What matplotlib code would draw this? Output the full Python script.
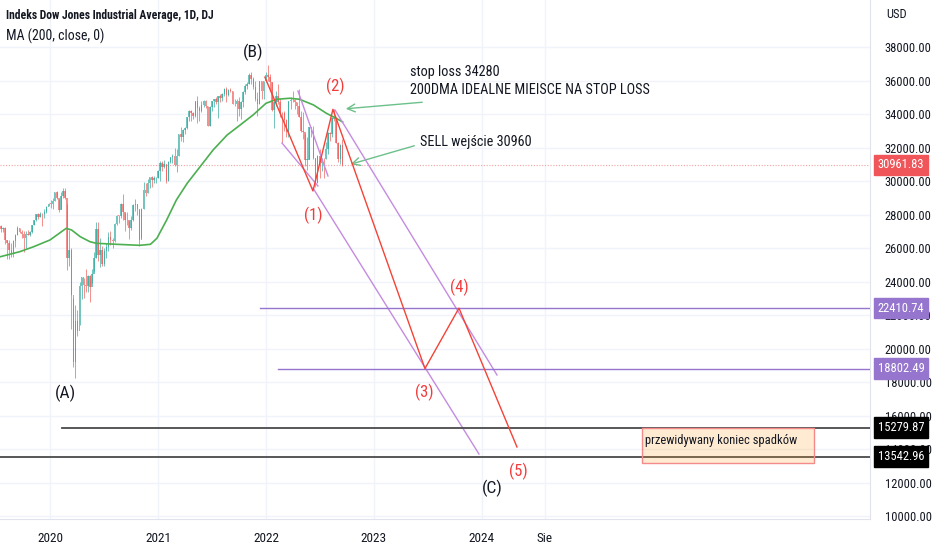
import pandas as pd
import matplotlib
matplotlib.use("Agg")
from matplotlib import pyplot as plt
from matplotlib import font_manager as fm
from matplotlib.patches import Rectangle

# weekly candles, Jul 2019 - Sep 2022
closes = [27154, 27192, 26485, 26287, 25886, 25628, 26403, 26797, 27220, 26935, 26820, 26573,
          26816, 26770, 26958, 27347, 27681, 28005, 27876, 28051, 28015, 28135, 28455, 28645,
          28634, 28823, 29348, 28989, 28256, 29102, 29398, 28992, 25409, 25864, 23185, 19174,
          21636, 21052, 23719, 24242, 23775, 23724, 24331, 23685, 24465, 25383, 27111, 25606,
          25871, 25016, 25827, 26075, 26672, 26470, 26428, 27433, 27931, 27930, 28654, 28133,
          27666, 27657, 27174, 27683, 28587, 28606, 28336, 26502, 28323, 29480, 29263, 29910,
          30218, 30046, 30179, 30200,
          30606, 31098, 30814, 30997, 29983, 31148, 31458, 31494, 30932, 31496, 32779, 32628,
          33073, 33153, 33801, 34200, 34043, 33875, 34778, 34382, 34208, 34529, 34756, 34480,
          33290, 34433, 34786, 34870, 34687, 35061, 34935, 35208, 35515, 35120, 35455, 35369,
          34607, 34584, 34798, 34326, 34746, 35295, 35677, 35820, 36328, 36100, 35602, 34899,
          34580, 35971, 35365, 35951, 36338,
          36232, 35912, 34265, 34725, 35090, 34738, 34079, 34059, 33615, 32944, 34755, 34862,
          34818, 34721, 34451, 33811, 32977, 32899, 31262, 31262, 33213, 32900, 31393, 29888,
          31501, 31097, 31338, 31288, 31899, 32845, 32803, 33761, 33706, 32283, 31318, 32151,
          30961.83]
highs = [27400, 27250, 27250, 26500, 26450, 26300, 26480, 26850, 27300, 27200, 27080, 27000,
         27000, 27100, 27000, 27350, 27700, 28050, 28090, 28175, 28070, 28300, 28500, 28700,
         28870, 29000, 29370, 29410, 28950, 29370, 29570, 29570, 28600, 27100, 26000, 23000,
         22600, 22300, 24000, 24270, 24200, 24760, 24400, 24400, 24770, 25760, 27580, 27580,
         26600, 26120, 26000, 26300, 26970, 27000, 26620, 27470, 28000, 28000, 28660, 29200,
         28100, 28130, 27600, 27900, 28650, 28900, 28600, 28300, 28400, 29930, 29900, 30120,
         30230, 30320, 30300, 30230,
         30640, 31190, 31200, 31270, 31000, 31200, 31460, 31640, 32000, 31900, 32800, 33230,
         33100, 33200, 33830, 34260, 34250, 34100, 34800, 35090, 34500, 34780, 34850, 34850,
         34500, 34500, 34800, 34900, 35000, 35100, 35200, 35250, 35550, 35630, 35500, 35550,
         35400, 34900, 34900, 35000, 34800, 35350, 35800, 35900, 36470, 36500, 36200, 36000,
         35300, 36000, 36000, 36000, 36500,
         36950, 36400, 35900, 34800, 35400, 35800, 34900, 34100, 34200, 33700, 34800, 35000,
         35370, 34900, 34700, 35500, 34200, 34100, 32800, 32600, 33250, 33200, 33300, 31400,
         31550, 31900, 31400, 31400, 32300, 32900, 32900, 33800, 34280, 33750, 32300, 32200,
         32500]
lows = [26950, 26950, 26250, 25340, 25340, 25450, 25470, 26050, 26800, 26900, 26600, 25740,
        26000, 26750, 26700, 26900, 27350, 27600, 27720, 27880, 27330, 27800, 28100, 28500,
        28400, 28300, 28800, 28900, 28170, 28300, 29000, 28900, 24680, 24900, 21150, 18900,
        18210, 20740, 21400, 22950, 23000, 23350, 23360, 22800, 23900, 24600, 25380, 25200,
        24850, 24900, 24900, 25390, 25800, 26200, 26000, 26350, 27400, 27500, 27800, 27660,
        27000, 27400, 26540, 27100, 27600, 28200, 28000, 26140, 26600, 28300, 29100, 29300,
        29600, 29670, 29900, 29900,
        30180, 30000, 30600, 30800, 29860, 30000, 31100, 31100, 30900, 30550, 31500, 32400,
        32300, 32800, 33100, 33600, 33600, 33700, 33800, 33450, 33600, 34100, 34400, 34380,
        33270, 33280, 34200, 34400, 34600, 33740, 34700, 34800, 35100, 34700, 35100, 35300,
        34600, 34500, 33600, 33900, 33700, 34400, 35200, 35500, 35800, 35800, 35500, 34800,
        33900, 34600, 34900, 34900, 35900,
        36000, 35400, 34200, 33150, 34500, 34600, 33800, 32270, 33000, 32630, 32600, 34300,
        34700, 34300, 34000, 33800, 32900, 32500, 30900, 30640, 31300, 32600, 31300, 29650,
        29900, 30150, 30600, 30150, 31300, 31600, 32400, 32600, 33600, 32250, 31150, 31000,
        30900]
first_open = 27330

# 200-day MA, read at points along the green line
ma_x = [2019.54, 2019.72, 2019.85, 2020.0, 2020.15, 2020.2, 2020.28, 2020.37, 2020.43, 2020.62,
        2020.83, 2020.93, 2020.99, 2021.08, 2021.17, 2021.27, 2021.39, 2021.51, 2021.64, 2021.76,
        2021.88, 2022.0, 2022.1, 2022.22, 2022.31, 2022.44, 2022.56, 2022.65, 2022.71]
ma_y = [25480, 25780, 26080, 26480, 27175, 27075, 26675, 26375, 26280, 26220,
        26160, 26220, 26580, 27670, 28865, 29860, 30855, 31850, 32745, 33340,
        33940, 34640, 34880, 34940, 34880, 34540, 34040, 33745, 33520]

# elliott wave drawing (red)
wave_x = [2021.99, 2022.435, 2022.62, 2023.472, 2023.787, 2024.324]
wave_y = [36200, 29403, 34280, 18802, 22410, 14119]

# trend lines (purple): x0, y0, x1, y1
trend_lines = [
    (2022.148, 32268, 2022.481, 29701),
    (2022.296, 35373, 2022.574, 30299),
    (2022.435, 29582, 2023.972, 13701),
    (2022.639, 34239, 2024.139, 18418),
]

# horizontal levels: value, start, colour
levels = [(22410.74, 2021.944, "#9575cd"), (18802.49, 2022.111, "#9575cd"),
          (15279.87, 2020.111, "#4a4a4a"), (13542.96, 2019.3, "#4a4a4a")]
last_price = 30961.83

wave_labels = [("(1)", 2022.435, 27970), ("(2)", 2022.639, 35672), ("(3)", 2023.463, 17403),
               ("(4)", 2023.787, 23672), ("(5)", 2024.333, 12687)]
abc_labels = [("(A)", 2020.148, 17343), ("(B)", 2021.880, 37701), ("(C)", 2024.093, 11672)]

year_ticks = [2020, 2021, 2022, 2023, 2024, 2024.583]
year_labels = ["2020", "2021", "2022", "2023", "2024", "Sie"]
price_ticks = list(range(10000, 40000, 2000))

have = {f.name for f in fm.fontManager.ttflist}
pref = ["Liberation Sans Narrow", "Arial Narrow", "Roboto Condensed", "PT Sans Narrow",
        "Open Sans Condensed", "Fira Sans Condensed", "Encode Sans Condensed", "Barlow Semi Condensed",
        "Archivo Narrow", "Lato"]
NARROW = [n for n in pref if n in have][:1] + ["DejaVu Sans"]
UP, DOWN = "#26a69a", "#ef5350"

dates = pd.date_range("2019-07-19", periods=len(closes), freq="W-FRI")
xs = [d.year + (d.dayofyear - 1) / (366 if d.is_leap_year else 365) for d in dates]
opens = [first_open] + closes[:-1]

fig = plt.figure(figsize=(9.32, 5.5), dpi=100)
ax = fig.add_axes([0, 31 / 550, 870 / 932, 519 / 550])
ax.set_xlim(2019.537, 2027.593)
ax.set_ylim(9821, 40806)

for t in price_ticks:
    ax.axhline(t, color="#f0f3fa", lw=1, zorder=0)
for t in year_ticks:
    ax.axvline(t, color="#f0f3fa", lw=1, zorder=0)

w = 5 / 365
for x, o, h, l, c in zip(xs, opens, highs, lows, closes):
    col = UP if c >= o else DOWN
    ax.vlines(x, l, h, color=col, lw=0.7, alpha=0.65, zorder=2)
    ax.bar(x, max(abs(c - o), 25), bottom=min(o, c), width=w, color=col, alpha=0.65,
           lw=0, zorder=2)

ax.plot(ma_x, ma_y, color="#4caf50", lw=1.2, zorder=3)
ax.axhline(last_price, color="#f4a0a0", lw=0.8, ls=(0, (1, 1.5)), zorder=1)

for x0, y0, x1, y1 in trend_lines:
    ax.plot([x0, x1], [y0, y1], color="#c58be0", lw=1, zorder=4)
ax.plot(wave_x, wave_y, color="#f44336", lw=1, zorder=5)

for val, start, col in levels:
    ax.plot([start, 2027.593], [val, val], color=col, lw=1.3 if col != "#9575cd" else 1,
            zorder=4)

for txt, x, y in wave_labels:
    ax.text(x, y, txt, color="#f23c3c", fontsize=12, family=NARROW, ha="center", va="center")
for txt, x, y in abc_labels:
    ax.text(x, y, txt, color="#131722", fontsize=12.5, family=NARROW, ha="center", va="center")

ax.text(2023.333, 36507, "stop loss 34280", fontsize=10.3, family=NARROW, color="#131722",
        va="center")
ax.text(2023.333, 35433, "200DMA IDEALNE MIEISCE NA STOP LOSS", fontsize=10.3, family=NARROW,
        color="#131722", va="center")
ax.text(2023.426, 32328, "SELL wejście 30960", fontsize=10.3, family=NARROW, color="#131722",
        va="center")
arrow = dict(arrowstyle="->", color="#6cc08a", lw=1, mutation_scale=14)
ax.annotate("", xy=(2022.713, 34298), xytext=(2023.472, 34716), arrowprops=arrow)
ax.annotate("", xy=(2022.759, 30955), xytext=(2023.398, 32149), arrowprops=arrow)

ax.add_patch(Rectangle((2025.481, 13164), 2027.074 - 2025.481, 15254 - 13164,
                       facecolor=(1, 0.62, 0.1, 0.2), edgecolor="#f48a8a", lw=1, zorder=6))
ax.text(2025.509, 14478, "przewidywany koniec spadków", fontsize=9, family=NARROW,
        color="#131722", va="center", zorder=7)

# axes
for s in ["top", "left"]:
    ax.spines[s].set_visible(False)
for s in ["right", "bottom"]:
    ax.spines[s].set_color("#e0e3eb")
ax.yaxis.tick_right()
ax.set_yticks(price_ticks)
ax.set_yticklabels([f"{t:.2f}" for t in price_ticks], family=NARROW, fontsize=9,
                   color="#131722")
ax.tick_params(axis="y", length=0, pad=10.5)
ax.set_xticks(year_ticks)
ax.set_xticklabels(year_labels, family=NARROW, fontsize=9.5, color="#131722")
ax.tick_params(axis="x", length=0, pad=9)

# price tags on the scale
tags = [(last_price, "#f0555a"), (22410.74, "#9575cd"), (18802.49, "#9575cd"),
        (15279.87, "#000000"), (13542.96, "#000000")]
for val, col in tags:
    ax.text(1.009, val, f"{val:.2f}", transform=ax.get_yaxis_transform(), color="white",
            fontsize=9, family=NARROW, va="center", ha="left", zorder=10, clip_on=False,
            bbox=dict(boxstyle="square,pad=0.3", facecolor=col, edgecolor=col))

fig.text(6 / 932, 1 - 15 / 550, "Indeks Dow Jones Industrial Average, 1D, DJ", fontsize=8.4,
         family=NARROW, weight="bold", color="#131722", va="center")
fig.text(6 / 932, 1 - 36 / 550, "MA (200, close, 0)", fontsize=10, family=NARROW,
         color="#131722", va="center")
fig.text(886 / 932, 1 - 14 / 550, "USD", fontsize=9, family=NARROW, color="#131722",
         va="center")

fig.savefig("out.png", dpi=100, facecolor="white")
